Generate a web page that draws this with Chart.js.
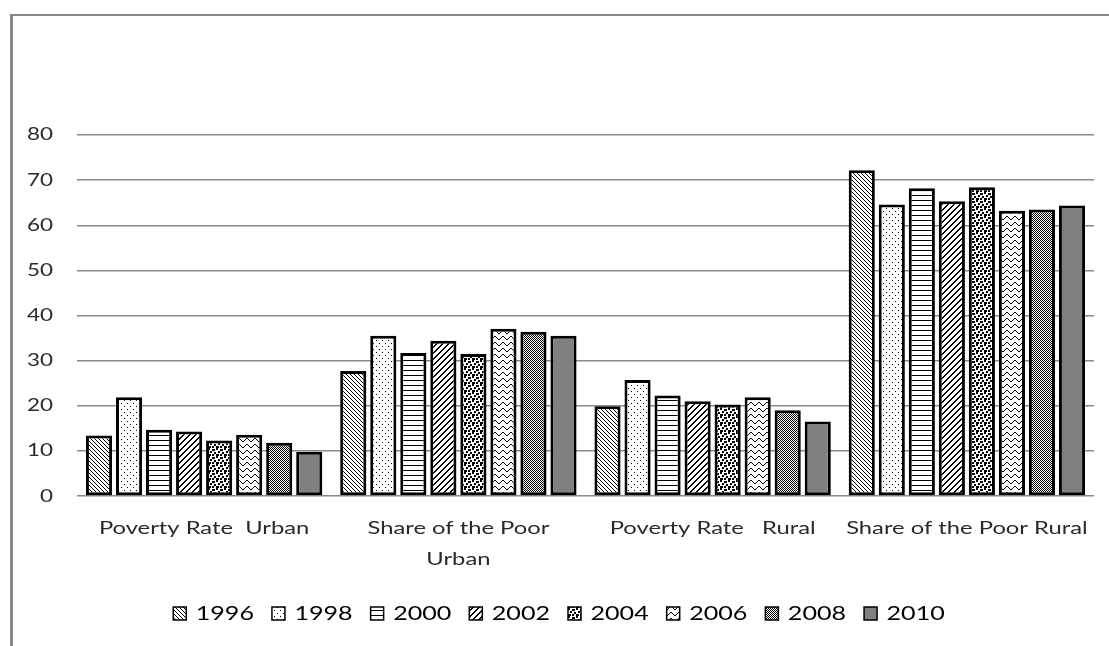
<!DOCTYPE html>
<html>
<head>
<meta charset="utf-8">
<script src="https://cdn.jsdelivr.net/npm/chart.js@4/dist/chart.umd.min.js"></script>
<style>
  html, body { margin: 0; padding: 0; background: #fff; }
  #wrap { position: relative; width: 1109px; height: 646px; overflow: hidden; }
  #frame { position: absolute; left: 10px; top: 14px; width: 1200px; height: 700px;
           border-left: 3px solid #888; border-top: 2px solid #888; }
  #c { position: absolute; left: 0; top: 0; }
</style>
</head>
<body>
<div id="wrap">
  <div id="frame"></div>
  <canvas id="c" width="1109" height="646"></canvas>
</div>
<script>
// Categories along the x axis
const categories = ['Poverty Rate  Urban', ['Share of the Poor', 'Urban'], 'Poverty Rate   Rural', 'Share of the Poor Rural'];
// Survey years (one series each)
const years = ['1996', '1998', '2000', '2002', '2004', '2006', '2008', '2010'];
// Values per year, in category order
const v1996 = [13.4, 27.7, 19.9, 72.2];
const v1998 = [21.9, 35.5, 25.7, 64.6];
const v2000 = [14.7, 31.7, 22.3, 68.2];
const v2002 = [14.3, 34.4, 21.0, 65.3];
const v2004 = [12.3, 31.5, 20.3, 68.4];
const v2006 = [13.6, 37.1, 21.9, 63.2];
const v2008 = [11.8, 36.4, 19.0, 63.5];
const v2010 = [9.8, 35.5, 16.5, 64.4];
// Y axis ticks
const yTicks = [0, 10, 20, 30, 40, 50, 60, 70, 80];

const seriesValues = [v1996, v1998, v2000, v2002, v2004, v2006, v2008, v2010];

// Monochrome fill patterns built from small pixel tiles
function tile(w, h, paint) {
  const c = document.createElement('canvas');
  c.width = w; c.height = h;
  const g = c.getContext('2d');
  g.fillStyle = '#fff';
  g.fillRect(0, 0, w, h);
  g.fillStyle = '#000';
  paint(g, w, h);
  return g.createPattern(c, 'repeat');
}
const px = (g, x, y, w = 1, h = 1) => g.fillRect(x, y, w, h);

const fills = [
  // 1996: thin backward diagonals
  tile(4, 4, g => { for (let i = 0; i < 4; i++) px(g, i, i); }),
  // 1998: sparse dots
  tile(6, 6, g => { px(g, 1, 1); px(g, 4, 4); }),
  // 2000: horizontal lines
  tile(4, 5, g => { px(g, 0, 0, 4, 1); }),
  // 2002: bold forward diagonals
  tile(6, 6, g => { for (let i = 0; i < 6; i++) { px(g, i, 5 - i, 2, 1); } px(g, 0, 0); }),
  // 2004: large confetti
  tile(8, 8, g => { px(g, 0, 0, 2, 2); px(g, 4, 1, 3, 2); px(g, 2, 3, 2, 2); px(g, 6, 4, 2, 2); px(g, 0, 6, 3, 2); px(g, 4, 6, 2, 2); }),
  // 2006: wave
  tile(8, 6, g => { const ys = [1, 2, 3, 3, 2, 1, 0, 0]; ys.forEach((y, x) => px(g, x, y)); }),
  // 2008: fine checker
  tile(2, 2, g => { px(g, 0, 0); px(g, 1, 1); }),
  // 2010: solid grey
  '#808080'
];

const datasets = years.map((y, i) => ({
  label: y,
  data: seriesValues[i],
  backgroundColor: fills[i],
  borderColor: '#000',
  borderWidth: 3,
  borderSkipped: false,
  categoryPercentage: 0.945,
  barPercentage: 0.87
}));

// Wide lettering: all chart text is drawn with a horizontal stretch,
// and measured the same way so the layout accounts for it.
const canvas = document.getElementById('c');
const ctx = canvas.getContext('2d');
const TEXT_SX = 1.32;
const baseFill = ctx.fillText.bind(ctx);
const baseMeasure = ctx.measureText.bind(ctx);
ctx.fillText = function (t, x, y) {
  this.save();
  this.translate(x, y);
  this.scale(TEXT_SX, 1);
  baseFill(t, 0, 0);
  this.restore();
};
ctx.measureText = function (t) {
  const m = baseMeasure(t);
  return {
    width: m.width * TEXT_SX,
    actualBoundingBoxAscent: m.actualBoundingBoxAscent,
    actualBoundingBoxDescent: m.actualBoundingBoxDescent,
    actualBoundingBoxLeft: m.actualBoundingBoxLeft * TEXT_SX,
    actualBoundingBoxRight: m.actualBoundingBoxRight * TEXT_SX
  };
};

// Nudge the legend block so it sits centred under the plot area
const legendShift = {
  id: 'legendShift',
  afterLayout(chart) {
    if (chart.legend) { chart.legend.left += 12; chart.legend.right += 12; }
  }
};

const FONT = 'Lato';
const TEXT = '#2a2a2a';

new Chart(canvas, {
  type: 'bar',
  data: { labels: categories, datasets },
  plugins: [legendShift],
  options: {
    responsive: false,
    animation: false,
    devicePixelRatio: 1,
    layout: { padding: { top: 135, right: 15, left: 0, bottom: 13 } },
    plugins: {
      tooltip: { enabled: false },
      legend: {
        position: 'bottom',
        labels: {
          color: TEXT,
          font: { family: FONT, size: 19 },
          boxWidth: 13,
          boxHeight: 13,
          padding: 18,
          generateLabels(chart) {
            return chart.data.datasets.map((d, i) => ({
              text: d.label,
              fillStyle: d.backgroundColor,
              strokeStyle: '#000',
              lineWidth: 1.5,
              datasetIndex: i,
              hidden: false
            }));
          }
        }
      }
    },
    scales: {
      x: {
        afterFit(s) { s.height -= 6; },
        grid: { display: false, drawTicks: false },
        border: { display: false },
        ticks: { color: TEXT, font: { family: FONT, size: 18, lineHeight: 1.72 }, padding: 17, maxRotation: 0, autoSkip: false }
      },
      y: {
        min: 0, max: 80,
        afterFit(s) { s.width = 77; },
        afterBuildTicks(s) { s.ticks = yTicks.map(v => ({ value: v })); },
        grid: { color: '#8a8a8a', lineWidth: 1.5, drawTicks: false },
        border: { display: false },
        ticks: { color: TEXT, font: { family: FONT, size: 17 }, padding: 24 }
      }
    }
  }
});
</script>
</body>
</html>
